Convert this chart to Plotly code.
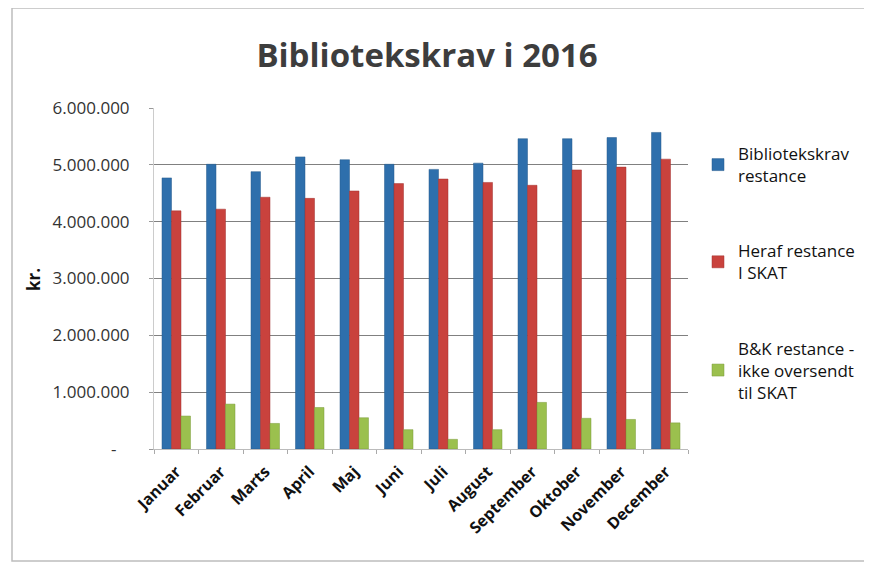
import plotly.graph_objects as go

months = ["Januar", "Februar", "Marts", "April", "Maj", "Juni", "Juli",
          "August", "September", "Oktober", "November", "December"]
bibliotekskrav = [4770000, 5010000, 4880000, 5140000, 5090000, 5010000,
                  4920000, 5030000, 5460000, 5460000, 5480000, 5570000]
heraf_skat = [4190000, 4220000, 4430000, 4410000, 4540000, 4670000,
              4750000, 4690000, 4640000, 4910000, 4960000, 5100000]
ikke_oversendt = [580000, 790000, 450000, 730000, 550000, 340000,
                  170000, 340000, 820000, 540000, 520000, 460000]

y_ticks = [0, 1000000, 2000000, 3000000, 4000000, 5000000, 6000000]
y_tick_text = ["-\u00a0\u00a0\u00a0", "1.000.000", "2.000.000", "3.000.000", "4.000.000",
               "5.000.000", "6.000.000"]

FONT = "'Open Sans', Lato, sans-serif"

# the page has an 8px body margin; all coordinates below are figure coords
OFF = 8
FW, FH = 864, 555
L, R, T, B = 154 - OFF, 688 - OFF, 108 - OFF, 449 - OFF
W, H = R - L, B - T
def px(x):
    return (x - L) / W
def py(y):
    return (B - y) / H

fig = go.Figure()
fig.add_trace(go.Bar(x=months, y=bibliotekskrav, name="Bibliotekskrav<br>restance",
                     marker=dict(color="#2E6FAC", line=dict(color="#245a8c", width=0.5)),
                     legendgroup="a"))
fig.add_trace(go.Bar(x=months, y=heraf_skat, name="Heraf restance<br>I SKAT",
                     marker=dict(color="#C9423D", line=dict(color="#a33330", width=0.5)),
                     legendgroup="b"))
fig.add_trace(go.Bar(x=months, y=ikke_oversendt, name="B&K restance -<br>ikke oversendt<br>til SKAT",
                     marker=dict(color="#9BC04E", line=dict(color="#7a9a3a", width=0.5)),
                     legendgroup="c"))

fig.update_layout(
    width=FW, height=FH,
    margin=dict(l=L, r=FW - R, t=T, b=FH - B),
    paper_bgcolor="white", plot_bgcolor="white",
    barmode="group", bargap=0.36, bargroupgap=0.0,
    font=dict(family=FONT, color="#222222"),
    title=dict(text="<b>Bibliotekskrav i 2016</b>", x=(427 - OFF) / FW, xanchor="center",
               xref="container", y=1 - (55 - OFF) / FH, yanchor="middle",
               font=dict(size=33, color="#3d3d3d", family=FONT)),
    showlegend=True,
    legend=dict(x=px(690), xanchor="left", y=py(128), yanchor="top",
                font=dict(size=17, color="#111111", family=FONT),
                tracegroupgap=50, itemwidth=30, bgcolor="rgba(0,0,0,0)"),
    xaxis=dict(tickangle=-45, tickfont=dict(size=16, color="#111111", family=FONT, weight="bold"),
               showline=True, linecolor="#bbbbbb", ticks="outside", tickson="boundaries",
               ticklen=4, tickcolor="#aaaaaa", showgrid=False, ticklabelstandoff=6),
    yaxis=dict(range=[0, 6000000], tickvals=y_ticks, ticktext=y_tick_text,
               tickfont=dict(size=17, color="#333333", family=FONT),
               showgrid=True, gridcolor="#808080", gridwidth=1,
               showline=True, linecolor="#cccccc", ticks="outside", ticklen=4,
               tickcolor="#999999", zeroline=False, ticklabelstandoff=16),
)

fig.add_annotation(text="<b>kr.</b>", xref="paper", yref="paper",
                   x=px(33 - OFF), y=py(280 - OFF), textangle=-90, showarrow=False,
                   font=dict(size=17, color="#111111", family=FONT),
                   xanchor="center", yanchor="middle")

# chart frame: left, top and bottom edges
x_left, x_right = px(12 - OFF), px(FW)
y_top, y_bot = py(0), py(FH - 2)
fig.add_shape(type="path", xref="paper", yref="paper",
              path=f"M {x_right} {y_top} L {x_left} {y_top} L {x_left} {y_bot} L {x_right} {y_bot}",
              line=dict(color="#bdbdbd", width=1.5), layer="below")

fig.write_html("out.html")
